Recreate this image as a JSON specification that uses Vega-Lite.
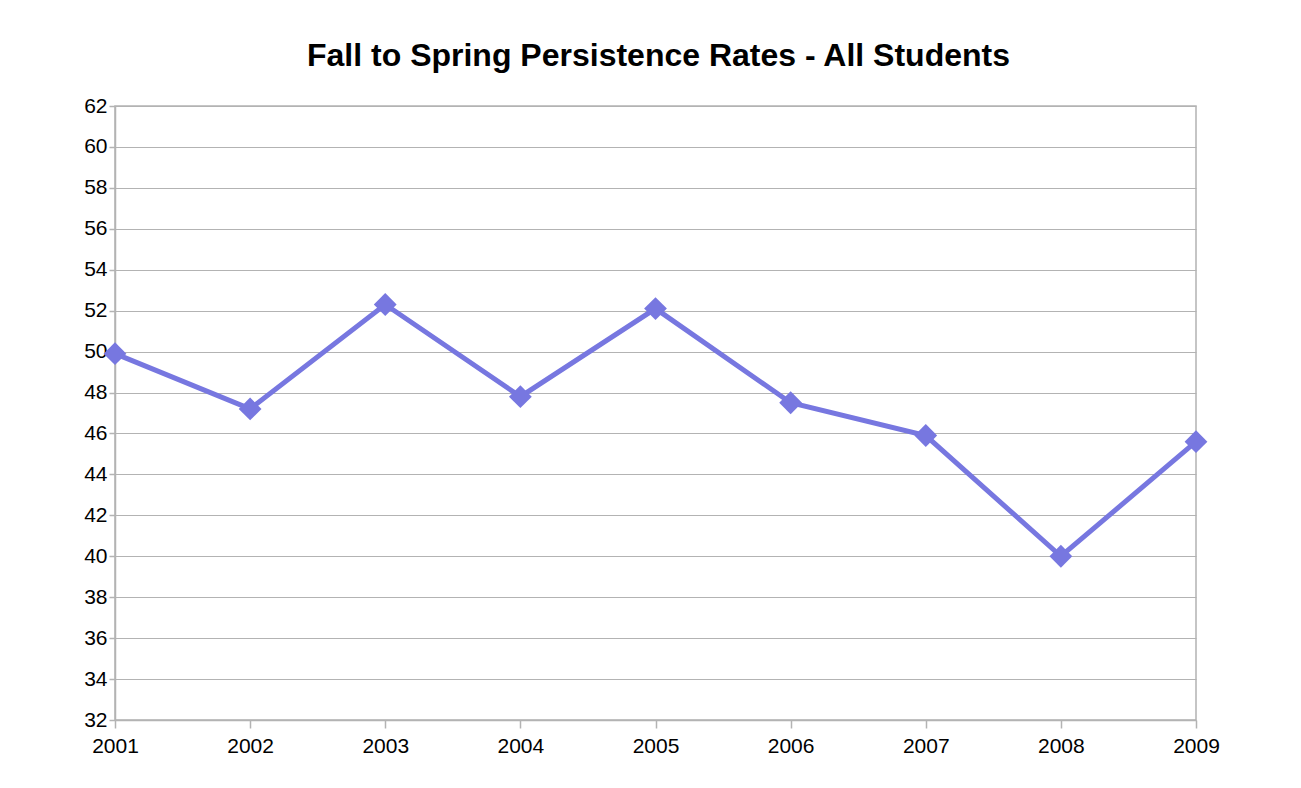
{
  "$schema": "https://vega.github.io/schema/vega-lite/v6.json",
  "width": 1081,
  "height": 614,
  "autosize": {"type": "none"},
  "padding": {"left": 115, "top": 106, "right": 105, "bottom": 68},
  "background": "white",
  "title": {
    "text": "Fall to Spring Persistence Rates - All Students",
    "font": "Liberation Sans",
    "fontSize": 32,
    "fontWeight": "bold",
    "color": "black",
    "anchor": "middle",
    "offset": 22,
    "dx": 3
  },
  "config": {
    "view": {"stroke": "#b3b3b3", "strokeWidth": 1.5},
    "axis": {
      "labelFont": "Liberation Sans",
      "labelFontSize": 21,
      "labelColor": "black",
      "domainColor": "#b3b3b3",
      "domainWidth": 1.5,
      "tickColor": "#b3b3b3",
      "tickWidth": 1.5,
      "gridColor": "#b3b3b3",
      "gridWidth": 1
    }
  },
  "data": {
    "values": [
      {"year": 2001, "rate": 49.9},
      {"year": 2002, "rate": 47.2},
      {"year": 2003, "rate": 52.3},
      {"year": 2004, "rate": 47.8},
      {"year": 2005, "rate": 52.1},
      {"year": 2006, "rate": 47.5},
      {"year": 2007, "rate": 45.9},
      {"year": 2008, "rate": 40.0},
      {"year": 2009, "rate": 45.6}
    ]
  },
  "mark": {
    "type": "line",
    "color": "#7777e0",
    "strokeWidth": 5,
    "point": {"shape": "diamond", "size": 520, "filled": true, "color": "#7777e0", "opacity": 1}
  },
  "encoding": {
    "x": {
      "field": "year",
      "type": "quantitative",
      "scale": {"domain": [2001, 2009], "nice": false, "zero": false},
      "axis": {
        "title": null,
        "values": [2001, 2002, 2003, 2004, 2005, 2006, 2007, 2008, 2009],
        "format": "d",
        "grid": false,
        "labelFlush": false,
        "tickSize": 8,
        "labelPadding": 7
      }
    },
    "y": {
      "field": "rate",
      "type": "quantitative",
      "scale": {"domain": [32, 62], "nice": false, "zero": false},
      "axis": {
        "title": null,
        "values": [32, 34, 36, 38, 40, 42, 44, 46, 48, 50, 52, 54, 56, 58, 60, 62],
        "grid": true,
        "labelFlush": false,
        "tickSize": 6,
        "labelPadding": 2
      }
    }
  }
}
